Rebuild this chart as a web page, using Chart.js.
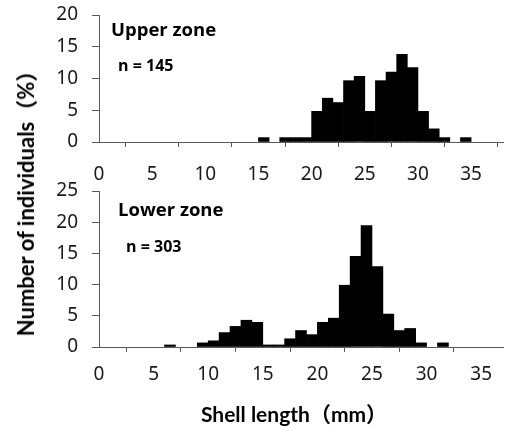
<!DOCTYPE html>
<html>
<head>
<meta charset="utf-8">
<script src="https://cdn.jsdelivr.net/npm/chart.js@4.4.1/dist/chart.umd.min.js"></script>
<style>
  html, body { margin: 0; padding: 0; background: #fff; }
  #wrap { position: relative; width: 505px; height: 430px; overflow: hidden; }
  .cv { position: absolute; left: 0; }
  #ytitle {
    position: absolute; left: 24px; top: 198px;
    transform: translate(-50%, -50%) rotate(-90deg);
    white-space: nowrap; font-family: Lato, "Noto Sans CJK JP", sans-serif;
    font-weight: bold; font-size: 22px; color: #000;
  }
  #xtitle {
    position: absolute; left: 294px; top: 413px;
    transform: translate(-50%, -50%);
    white-space: nowrap; font-family: Lato, "Noto Sans CJK JP", sans-serif;
    font-weight: bold; font-size: 21px; color: #000;
  }
</style>
</head>
<body>
<div id="wrap">
  <div class="cv" style="top:0;width:505px;height:185px;"><canvas id="c1"></canvas></div>
  <div class="cv" style="top:170px;width:505px;height:260px;"><canvas id="c2"></canvas></div>
  <div id="ytitle">Number of individuals（%）</div>
  <div id="xtitle">Shell length（mm）</div>
</div>
<script>
// ---- data: bin lower edges (mm) and percentage of individuals ----
const upperBins = [15, 17, 18, 19, 20, 21, 22, 23, 24, 25, 26, 27, 28, 29, 30, 31, 32, 34];
const upperPct  = [0.69, 0.69, 0.69, 0.69, 4.83, 6.90, 6.21, 9.66, 10.34, 4.83, 9.66, 11.03, 13.79, 11.72, 4.83, 2.07, 0.69, 0.69];
const lowerBins = [6, 9, 10, 11, 12, 13, 14, 15, 16, 17, 18, 19, 20, 21, 22, 23, 24, 25, 26, 27, 28, 29, 31];
const lowerPct  = [0.33, 0.66, 0.99, 2.31, 3.30, 4.29, 3.96, 0.33, 0.33, 1.32, 2.64, 1.98, 3.96, 4.62, 9.90, 14.52, 19.47, 12.87, 5.28, 2.64, 2.97, 0.66, 0.66];
const xTickLabels = [0, 5, 10, 15, 20, 25, 30, 35];
const upperYTicks = [0, 5, 10, 15, 20];
const lowerYTicks = [0, 5, 10, 15, 20, 25];
const upperLabel = ['Upper zone', 'n = 145'];
const lowerLabel = ['Lower zone', 'n = 303'];

const axisColor = '#595959';
const tickFont = { family: '"Noto Sans", sans-serif', size: 19 };

function makeChart(id, bins, pct, xMax, yTicks, labels, xAxisHeight, topPad, xPad, textPos) {
  const data = bins.map((b, i) => ({ x: b + 0.5, y: pct[i] }));
  const annot = {
    id: 'annot',
    afterDraw(chart) {
      const { ctx, chartArea } = chart;
      ctx.save();
      ctx.fillStyle = '#000';
      ctx.textBaseline = 'alphabetic';
      ctx.textAlign = 'left';
      ctx.font = 'bold 18.5px "Open Sans", sans-serif';
      ctx.fillText(labels[0], chartArea.left + textPos[0], chartArea.top + textPos[1]);
      ctx.font = 'bold 16px "Open Sans", sans-serif';
      ctx.fillText(labels[1], chartArea.left + textPos[2], chartArea.top + textPos[3]);
      ctx.restore();
    }
  };
  return new Chart(document.getElementById(id), {
    type: 'bar',
    data: { datasets: [{ data, backgroundColor: '#000', borderWidth: 0, barPercentage: 1, categoryPercentage: 1 }] },
    options: {
      responsive: true, maintainAspectRatio: false, animation: false,
      layout: { padding: { top: topPad, right: 2, left: 0, bottom: 0 } },
      plugins: { legend: { display: false }, tooltip: { enabled: false } },
      scales: {
        x: {
          type: 'linear', min: 0, max: xMax, offset: false,
          afterBuildTicks(s) { s.ticks = xTickLabels.map(v => ({ value: v })); },
          afterFit(s) { s.height = xAxisHeight; s.paddingLeft = 0; s.paddingRight = 0; },
          grid: { display: true, drawOnChartArea: false, drawTicks: true, tickLength: 5, color: axisColor, lineWidth: 1 },
          border: { display: true, color: axisColor, width: 1 },
          ticks: { font: tickFont, color: '#1a1a1a', padding: xPad, maxRotation: 0, autoSkip: false }
        },
        y: {
          min: 0, max: yTicks[yTicks.length - 1],
          afterBuildTicks(s) { s.ticks = yTicks.map(v => ({ value: v })); },
          afterFit(s) { s.width = 99; s.paddingTop = 0; s.paddingBottom = 0; },
          grid: { display: true, drawOnChartArea: false, drawTicks: true, tickLength: 7, color: axisColor, lineWidth: 1 },
          border: { display: true, color: axisColor, width: 1 },
          ticks: { font: tickFont, color: '#1a1a1a', padding: 14 }
        }
      }
    },
    plugins: [annot]
  });
}

makeChart('c1', upperBins, upperPct, 38, upperYTicks, upperLabel, 43, 15, 16, [12, 21, 19, 55.5]);
makeChart('c2', lowerBins, lowerPct, 37, lowerYTicks, lowerLabel, 83, 21, 11, [19, 25, 27, 61]);
</script>
</body>
</html>
